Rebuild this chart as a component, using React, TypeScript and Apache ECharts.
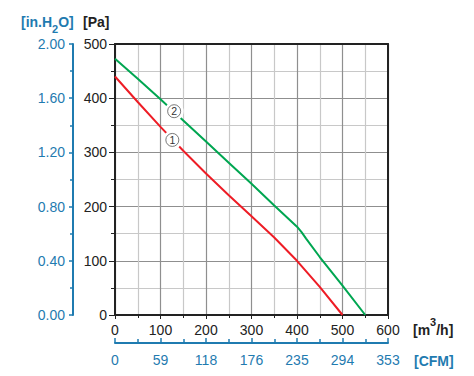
import React, { useEffect, useRef } from "react";
import * as echarts from "echarts";

// Curve 1 (red)
const flow1 = [0, 50, 100, 150, 200, 250, 300, 350, 400, 450, 500];
const pressure1 = [440, 393, 347, 303, 261, 221, 182, 143, 100, 52, 0];
// Curve 2 (green)
const flow2 = [0, 50, 100, 150, 200, 250, 300, 350, 400, 410, 420, 450, 500, 550];
const pressure2 = [473, 436, 398, 359, 320, 281, 242, 202, 163, 153, 141, 107, 54, 0];

// Secondary axis tick labels
const cfmLabels = ["0", "59", "118", "176", "235", "294", "353"];
const inH2OLabels = ["0.00", "0.40", "0.80", "1.20", "1.60", "2.00"];

// Curve markers (data coordinates)
const marker1 = { name: "1", coord: [126, 323] };
const marker2 = { name: "2", coord: [130, 376] };

const BLUE = "#1f7bb0";
const DARK = "#222222";
const RED = "#ee1c25";
const GREEN = "#00a651";
const FONT = "Arial, 'Liberation Sans', sans-serif";

function markerOpt(m: { name: string; coord: number[] }) {
  return {
    silent: true,
    symbol: "circle",
    symbolSize: 19,
    itemStyle: { color: "#ffffff" },
    label: {
      show: true,
      position: "inside",
      formatter: m.name,
      fontSize: 10.5,
      fontFamily: FONT,
      color: "#333",
      borderColor: "#555",
      borderWidth: 0.8,
      borderRadius: 7,
      width: 13,
      height: 13,
      lineHeight: 13,
      align: "center",
      verticalAlign: "middle",
    },
    data: [{ coord: m.coord }],
  };
}

export default function App() {
  const ref = useRef<HTMLDivElement>(null);
  useEffect(() => {
    if (!ref.current) return;
    const chart = echarts.init(ref.current, undefined, { renderer: "svg" });
    const labelStyle = { fontSize: 14, fontFamily: FONT, color: DARK };
    const blueLabel = { fontSize: 14, fontFamily: FONT, color: BLUE };
    const boxAxis = {
      type: "value",
      axisLine: { show: true, onZero: false, lineStyle: { color: DARK, width: 2 } },
      axisTick: { show: false },
      axisLabel: { show: false },
      splitLine: { show: false },
    };
    chart.setOption({
      animation: false,
      backgroundColor: "#ffffff",
      textStyle: { fontFamily: FONT },
      grid: {
        left: 115,
        right: 86,
        top: 44,
        bottom: 61,
        outerBoundsMode: "none",
      },
      xAxis: [
        {
          type: "value",
          min: 0,
          max: 600,
          interval: 100,
          position: "bottom",
          axisLine: { show: true, onZero: false, lineStyle: { color: DARK, width: 2 } },
          axisTick: { show: true, length: 4, lineStyle: { color: DARK, width: 1 } },
          minorTick: { show: true, splitNumber: 2, length: 3, lineStyle: { color: DARK, width: 1 } },
          axisLabel: { ...labelStyle, margin: 8 },
          splitLine: { show: true, lineStyle: { color: "#8f8f8f", width: 1.2, type: "solid" } },
          minorSplitLine: { show: true, lineStyle: { color: "#c8c8c8", width: 1.2, type: "solid" } },
        },
        {
          type: "value",
          min: 0,
          max: 600,
          interval: 100,
          position: "bottom",
          offset: 28,
          axisLine: { show: true, onZero: false, lineStyle: { color: BLUE, width: 2 } },
          axisTick: { show: true, inside: true, length: 5, lineStyle: { color: BLUE, width: 1.5 } },
          minorTick: { show: true, splitNumber: 2, length: 4, lineStyle: { color: BLUE, width: 1.5 } },
          axisLabel: {
            ...blueLabel,
            margin: 10,
            formatter: (v: number) => cfmLabels[Math.round(v / 100)] ?? "",
          },
          splitLine: { show: false },
        },
        { ...boxAxis, min: 0, max: 600, position: "top" },
      ],
      yAxis: [
        {
          type: "value",
          min: 0,
          max: 500,
          interval: 100,
          position: "left",
          axisLine: { show: true, onZero: false, lineStyle: { color: DARK, width: 2 } },
          axisTick: { show: true, length: 6, lineStyle: { color: DARK, width: 1 } },
          minorTick: { show: true, splitNumber: 2, length: 4, lineStyle: { color: DARK, width: 1 } },
          axisLabel: { ...labelStyle, margin: 8 },
          splitLine: { show: true, lineStyle: { color: "#8f8f8f", width: 1.2, type: "solid" } },
          minorSplitLine: { show: true, lineStyle: { color: "#c8c8c8", width: 1.2, type: "solid" } },
        },
        {
          type: "value",
          min: 0,
          max: 2,
          interval: 0.4,
          position: "left",
          offset: 42,
          axisLine: { show: true, onZero: false, lineStyle: { color: BLUE, width: 2 } },
          axisTick: { show: true, length: 4, lineStyle: { color: BLUE, width: 1.5 } },
          minorTick: { show: true, splitNumber: 2, length: 3, lineStyle: { color: BLUE, width: 1.5 } },
          axisLabel: {
            ...blueLabel,
            margin: 8,
            formatter: (v: number) => inH2OLabels[Math.round(v / 0.4)] ?? "",
          },
          splitLine: { show: false },
        },
        { ...boxAxis, min: 0, max: 500, position: "right" },
      ],
      graphic: [
        {
          type: "text",
          left: 21,
          top: 9,
          style: {
            text: "{a|[in.H}{s|2}{a|O]}",
            fill: BLUE,
            rich: {
              a: { fontSize: 14, fontWeight: "bold", fontFamily: FONT, fill: BLUE, lineHeight: 18 },
              s: { fontSize: 11, fontWeight: "bold", fontFamily: FONT, fill: BLUE, lineHeight: 11, padding: [14, 0, 0, 0] },
            },
          },
        },
        {
          type: "text",
          left: 83,
          top: 15,
          style: { text: "[Pa]", fill: DARK, fontSize: 14, fontWeight: "bold", fontFamily: FONT },
        },
        {
          type: "text",
          left: 413,
          top: 316,
          style: {
            text: "{a|[m}{s|3}{a|/h]}",
            fill: DARK,
            rich: {
              a: { fontSize: 14, fontWeight: "bold", fontFamily: FONT, fill: DARK, lineHeight: 18 },
              s: { fontSize: 11, fontWeight: "bold", fontFamily: FONT, fill: DARK, lineHeight: 11, padding: [0, 0, 16, 0] },
            },
          },
        },
        {
          type: "text",
          left: 414,
          top: 354,
          style: { text: "[CFM]", fill: BLUE, fontSize: 14, fontWeight: "bold", fontFamily: FONT },
        },
      ],
      series: [
        {
          type: "line",
          xAxisIndex: 0,
          yAxisIndex: 0,
          data: flow1.map((x, i) => [x, pressure1[i]]),
          showSymbol: false,
          symbol: "none",
          lineStyle: { color: RED, width: 2 },
          itemStyle: { color: RED },
          silent: true,
          z: 3,
          markPoint: markerOpt(marker1),
        },
        {
          type: "line",
          xAxisIndex: 0,
          yAxisIndex: 0,
          data: flow2.map((x, i) => [x, pressure2[i]]),
          showSymbol: false,
          symbol: "none",
          lineStyle: { color: GREEN, width: 2 },
          itemStyle: { color: GREEN },
          silent: true,
          z: 3,
          markPoint: markerOpt(marker2),
        },
      ],
    });
    return () => chart.dispose();
  }, []);
  return <div ref={ref} style={{ width: 474, height: 376, position: "absolute", left: 0, top: 0 }} />;
}
